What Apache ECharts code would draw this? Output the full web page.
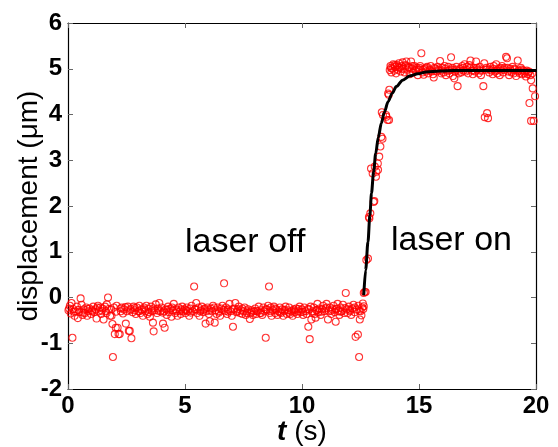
<!DOCTYPE html>
<html>
<head>
<meta charset="utf-8">
<script src="https://cdn.jsdelivr.net/npm/echarts@6/dist/echarts.min.js"></script>
<style>
  html, body { margin: 0; padding: 0; background: #fff; }
  #chart { width: 558px; height: 447px; }
</style>
</head>
<body>
<div id="chart"></div>
<script>
// measured displacement, laser off (t in s, displacement in um)
const laserOff = [
  [0.02,-0.28],[0.08,-0.18],[0.12,-0.35],[0.15,-0.12],[0.19,-0.88],[0.22,-0.25],[0.28,-0.40],[0.32,-0.30],[0.38,-0.20],[0.42,-0.45],
  [0.48,-0.32],[0.54,-0.02],[0.58,-0.16],[0.62,-0.38],[0.68,-0.26],[0.72,-0.34],[0.78,-0.22],[0.82,-0.40],[0.88,-0.30],[0.92,-0.24],[0.98,-0.36],
  [1.02,-0.28],[1.08,-0.20],[1.12,-0.32],[1.18,-0.26],[1.22,-0.46],[1.28,-0.18],[1.32,-0.30],[1.38,-0.22],[1.42,-0.36],[1.48,-0.24],
  [1.52,-0.48],[1.58,-0.20],[1.62,-0.30],[1.66,-0.15],[1.71,0.00],[1.75,-0.25],[1.80,-0.40],[1.86,-0.40],[1.90,-0.58],[1.92,-1.30],[1.96,-0.22],[2.00,-0.80],
  [2.04,-0.66],[2.08,-0.18],[2.12,-0.66],[2.16,-0.80],[2.21,-0.80],[2.26,-0.30],[2.30,-0.22],[2.35,-0.35],[2.40,-0.26],[2.47,-0.57],
  [2.52,-0.30],[2.56,-0.20],[2.60,-0.73],[2.64,-0.73],[2.68,-0.25],[2.71,-0.89],[2.76,-0.32],[2.80,-0.20],[2.85,-0.28],[2.90,-0.36],[2.95,-0.22],
  [3.00,-0.30],[3.05,-0.18],[3.10,-0.34],[3.15,-0.26],[3.20,-0.40],[3.25,-0.22],[3.30,-0.30],[3.35,-0.18],[3.40,-0.36],[3.45,-0.25],
  [3.50,-0.42],[3.55,-0.20],[3.60,-0.30],[3.63,-0.55],[3.66,-0.74],[3.70,-0.28],[3.75,-0.15],[3.80,-0.34],[3.85,-0.24],[3.90,-0.12],[3.95,-0.30],
  [4.00,-0.22],[4.06,-0.57],[4.10,-0.30],[4.13,-0.66],[4.18,-0.26],[4.22,-0.38],[4.28,-0.20],[4.32,-0.32],[4.38,-0.24],[4.42,-0.42],
  [4.48,-0.28],[4.52,-0.14],[4.58,-0.34],[4.62,-0.26],[4.68,-0.40],[4.72,-0.22],[4.78,-0.30],[4.82,-0.36],[4.88,-0.20],[4.92,-0.30],[4.98,-0.26],
  [5.02,-0.34],[5.08,-0.22],[5.12,-0.30],[5.18,-0.40],[5.22,-0.24],[5.28,-0.18],[5.32,-0.30],[5.39,0.24],[5.42,-0.26],[5.48,-0.12],
  [5.52,-0.34],[5.58,-0.22],[5.62,-0.40],[5.68,-0.28],[5.72,-0.20],[5.78,-0.32],[5.82,-0.26],[5.88,-0.57],[5.92,-0.30],[5.96,-0.22],
  [6.02,-0.36],[6.06,-0.52],[6.10,-0.24],[6.15,-0.30],[6.20,-0.18],[6.27,-0.55],[6.30,-0.28],[6.35,-0.36],[6.40,-0.22],[6.45,-0.30],
  [6.50,-0.40],[6.55,-0.24],[6.60,-0.18],[6.67,0.31],[6.70,-0.30],[6.75,-0.22],[6.80,-0.36],[6.85,-0.26],[6.90,-0.14],[6.95,-0.30],
  [7.00,-0.40],[7.05,-0.64],[7.10,-0.24],[7.15,-0.12],[7.20,-0.32],[7.25,-0.26],[7.30,-0.20],[7.35,-0.34],[7.40,-0.28],[7.45,-0.36],
  [7.50,-0.30],[7.55,-0.22],[7.60,-0.38],[7.65,-0.30],[7.70,-0.26],[7.77,-0.47],[7.80,-0.34],[7.85,-0.28],[7.90,-0.38],[7.95,-0.30],
  [8.00,-0.24],[8.05,-0.36],[8.10,-0.30],[8.15,-0.20],[8.20,-0.34],[8.25,-0.28],[8.30,-0.38],[8.35,-0.22],[8.40,-0.30],[8.45,-0.88],
  [8.50,-0.26],[8.55,-0.18],[8.59,0.24],[8.62,-0.34],[8.66,-0.22],[8.70,-0.40],[8.75,-0.28],[8.80,-0.20],[8.85,-0.34],[8.90,-0.26],[8.95,-0.38],
  [9.00,-0.30],[9.05,-0.22],[9.10,-0.34],[9.15,-0.26],[9.20,-0.40],[9.25,-0.30],[9.30,-0.20],[9.35,-0.36],[9.40,-0.28],[9.45,-0.22],
  [9.50,-0.36],[9.55,-0.30],[9.60,-0.40],[9.65,-0.26],[9.70,-0.32],[9.75,-0.24],[9.80,-0.36],[9.85,-0.30],[9.90,-0.20],[9.95,-0.32],
  [10.00,-0.26],[10.05,-0.38],[10.10,-0.22],[10.15,-0.30],[10.20,-0.36],[10.27,-0.64],[10.30,-0.26],[10.33,-0.91],[10.37,-0.20],[10.40,-0.48],
  [10.45,-0.30],[10.50,-0.22],[10.54,-0.36],[10.58,-0.44],[10.62,-0.28],[10.66,-0.14],[10.70,-0.32],[10.75,-0.24],[10.80,-0.38],[10.85,-0.26],[10.90,-0.18],[10.95,-0.30],
  [11.00,-0.24],[11.05,-0.14],[11.11,-0.48],[11.15,-0.30],[11.20,-0.22],[11.25,-0.36],[11.30,-0.26],[11.35,-0.18],[11.40,-0.32],[11.44,-0.53],
  [11.48,-0.24],[11.52,-0.14],[11.56,-0.30],[11.60,-0.38],[11.65,-0.22],[11.70,-0.30],[11.75,-0.16],[11.80,-0.34],[11.87,0.10],[11.90,-0.26],[11.95,-0.34],
  [12.00,-0.20],[12.05,-0.30],[12.10,-0.38],[12.15,-0.24],[12.20,-0.16],[12.25,-0.32],[12.29,-0.86],[12.33,-0.26],[12.39,-0.81],[12.41,-0.18],
  [12.44,-1.30],[12.47,-0.48],[12.50,-0.30],[12.54,-0.39],[12.57,-0.22],[12.60,-0.13],[12.64,-0.19]
];

// dense core of the laser-off band
const laserOffCore = [
  [0.05,-0.24],[0.25,-0.31],[0.45,-0.27],[0.65,-0.33],[0.85,-0.25],[1.05,-0.30],[1.25,-0.22],[1.45,-0.29],[1.65,-0.34],[1.85,-0.26],
  [2.05,-0.31],[2.25,-0.24],[2.45,-0.21],[2.65,-0.28],[2.85,-0.23],[3.05,-0.30],[3.25,-0.26],[3.45,-0.32],[3.65,-0.24],[3.85,-0.29],
  [4.05,-0.33],[4.25,-0.27],[4.45,-0.22],[4.65,-0.30],[4.85,-0.26],[5.05,-0.28],[5.25,-0.33],[5.45,-0.25],[5.65,-0.30],[5.85,-0.24],
  [6.05,-0.28],[6.25,-0.22],[6.45,-0.33],[6.65,-0.27],[6.85,-0.31],[7.05,-0.25],[7.25,-0.30],[7.45,-0.24],[7.65,-0.34],[7.85,-0.31],
  [8.05,-0.29],[8.25,-0.34],[8.45,-0.26],[8.65,-0.30],[8.85,-0.24],[9.05,-0.32],[9.25,-0.27],[9.45,-0.33],[9.65,-0.29],[9.85,-0.25],
  [10.05,-0.31],[10.25,-0.25],[10.45,-0.34],[10.65,-0.27],[10.85,-0.31],[11.05,-0.22],[11.25,-0.29],[11.45,-0.25],[11.65,-0.31],[11.85,-0.23],
  [12.05,-0.27],[12.25,-0.22],[12.45,-0.29],[12.62,-0.25]
];

// measured displacement, laser switched on
const laserOn = [
  [12.64,0.10],[12.68,0.12],[12.72,0.12],[12.75,0.82],[12.82,0.85],[12.86,1.76],[12.88,1.73],[12.92,1.84],[12.95,2.82],[13.02,2.71],
  [13.06,2.09],[13.09,2.11],[13.11,2.86],[13.16,2.64],[13.18,2.75],[13.24,2.93],[13.25,2.79],[13.30,3.08],[13.35,3.30],[13.39,3.51],
  [13.44,3.47],[13.41,4.05],[13.46,3.99],[13.59,3.99],[13.61,3.95],[13.66,3.88],[13.72,3.88],[13.68,4.46],[13.71,4.43],[13.73,4.54],
  [13.75,4.97],[13.78,5.06],[13.82,4.92],[13.86,5.00],[13.90,5.10],[13.94,4.96],[13.98,5.04],[14.02,4.90],[14.06,5.08],[14.10,4.98],
  [14.14,5.12],[14.18,5.02],[14.22,4.94],[14.26,5.06],[14.30,5.14],[14.34,5.00],[14.38,4.92],[14.42,5.08],[14.46,5.16],[14.50,4.98],
  [14.55,5.04],[14.60,4.88],[14.66,5.16],[14.70,5.00],[14.75,4.92],[14.80,5.06],[14.85,4.96],[14.90,5.02],[14.95,4.86],
  [15.00,4.98],[15.05,5.06],[15.10,5.34],[15.15,4.92],[15.20,4.87],[15.25,5.00],[15.30,4.94],[15.35,5.04],[15.40,4.90],[15.45,4.98],
  [15.50,5.06],[15.55,4.94],[15.60,4.88],[15.63,4.81],[15.70,5.00],[15.75,4.94],[15.80,5.04],[15.85,4.96],[15.90,5.17],[15.95,4.90],
  [16.00,5.02],[16.05,4.92],[16.10,5.06],[16.15,4.86],[16.20,4.96],[16.25,5.04],[16.30,4.90],[16.37,5.25],[16.40,4.98],[16.45,4.84],
  [16.51,4.79],[16.55,4.94],[16.60,5.04],[16.65,4.62],[16.70,4.90],[16.75,5.00],[16.80,4.92],[16.85,5.06],[16.90,4.96],[16.95,5.10],
  [17.00,4.94],[17.05,5.04],[17.10,4.90],[17.15,5.08],[17.20,5.18],[17.25,4.96],[17.30,4.88],[17.35,5.02],[17.40,4.94],[17.44,5.16],
  [17.50,4.98],[17.55,4.90],[17.60,5.04],[17.65,4.86],[17.70,4.96],[17.75,4.62],[17.79,5.12],[17.81,3.94],[17.85,4.98],[17.91,4.03],[17.95,3.92],
  [18.00,4.92],[18.05,5.04],[18.10,4.96],[18.15,4.88],[18.20,5.06],[18.25,4.94],[18.30,5.10],[18.35,4.90],[18.40,5.00],[18.45,4.86],
  [18.50,4.96],[18.55,5.06],[18.60,4.92],[18.65,5.02],[18.72,5.26],[18.76,5.23],[18.80,4.94],[18.85,4.86],[18.90,5.00],[18.95,4.92],
  [19.00,5.04],[19.05,4.90],[19.10,4.98],[19.15,4.84],[19.22,5.18],[19.25,4.96],[19.30,4.90],[19.35,5.02],[19.40,4.88],[19.45,4.96],
  [19.50,4.90],[19.57,4.83],[19.60,4.96],[19.65,4.88],[19.70,4.94],[19.72,4.25],[19.76,4.86],[19.79,4.75],[19.79,3.86],[19.86,4.57],
  [19.90,3.86],[19.96,4.40]
];

// dense core of the laser-on plateau
const laserOnCore = [
  [13.80,5.02],[13.96,5.08],[14.12,5.04],[14.28,5.00],[14.44,5.06],[14.58,5.02],[14.72,5.06],[14.88,4.98],[15.02,5.02],[15.18,4.98],
  [15.32,5.02],[15.48,4.96],[15.66,5.02],[15.82,4.98],[15.98,4.96],[16.12,5.00],[16.28,4.96],[16.42,5.02],[16.58,4.98],[16.72,4.96],
  [16.88,5.02],[17.02,4.98],[17.18,5.02],[17.32,4.96],[17.48,5.02],[17.62,4.96],[17.88,5.02],[18.02,4.98],[18.18,5.00],[18.32,4.96],
  [18.48,5.02],[18.62,4.98],[18.78,5.02],[18.92,4.96],[19.08,5.00],[19.24,4.94],[19.38,4.98],[19.52,4.94],[19.68,4.92],[19.84,4.90]
];

// fitted response curve
const fitCurve = [
  [12.64,0.05],[12.72,0.60],[12.82,1.22],[12.90,1.80],[12.97,2.28],[13.06,2.75],[13.15,3.15],[13.26,3.50],
  [13.39,3.81],[13.52,4.05],[13.68,4.28],[13.85,4.46],[14.03,4.61],[14.3,4.75],[14.6,4.84],[14.95,4.89],
  [15.3,4.93],[15.9,4.95],[16.5,4.96],[18,4.96],[20,4.96]
];

const fontFamily = '"Liberation Sans", Arial, sans-serif';

const chart = echarts.init(document.getElementById("chart"), null, { renderer: "canvas" });

const tickStyle = { show: true, inside: true, length: 5, lineStyle: { color: "#666", width: 1 } };
const lineStyle = { show: true, onZero: false, lineStyle: { color: "#000", width: 1.2 } };
const dotStyle = { color: "rgba(0,0,0,0)", borderColor: "#ff0000", borderWidth: 1.1 };

const option = {
  backgroundColor: "#fff",
  animation: false,
  grid: { left: 68, right: 22, top: 23, bottom: 58, containLabel: false, outerBoundsMode: "none" },
  xAxis: [
    {
      type: "value",
      min: 0,
      max: 20,
      interval: 5,
      name: "{it|t} (s)",
      nameLocation: "middle",
      nameGap: 29,
      nameMoveOverlap: false,
      nameTextStyle: {
        color: "#000",
        fontFamily: fontFamily,
        fontSize: 28,
        rich: {
          it: { fontFamily: fontFamily, fontSize: 28, fontStyle: "italic", fontWeight: "bold", color: "#000" },
        },
      },
      axisLine: lineStyle,
      axisTick: tickStyle,
      axisLabel: { color: "#000", fontFamily: fontFamily, fontSize: 24, fontWeight: "bold", margin: 5 },
      splitLine: { show: false },
    },
    {
      type: "value",
      position: "top",
      min: 0,
      max: 20,
      interval: 5,
      axisLine: lineStyle,
      axisTick: tickStyle,
      axisLabel: { show: false },
      splitLine: { show: false },
    },
  ],
  yAxis: [
    {
      type: "value",
      min: -2,
      max: 6,
      interval: 1,
      name: "displacement (μm)",
      nameLocation: "middle",
      nameRotate: 90,
      nameGap: 25,
      nameMoveOverlap: false,
      nameTextStyle: { color: "#000", fontFamily: fontFamily, fontSize: 28 },
      axisLine: lineStyle,
      axisTick: tickStyle,
      axisLabel: { color: "#000", fontFamily: fontFamily, fontSize: 24, fontWeight: "bold", margin: 6 },
      splitLine: { show: false },
    },
    {
      type: "value",
      position: "right",
      min: -2,
      max: 6,
      interval: 1,
      axisLine: lineStyle,
      axisTick: tickStyle,
      axisLabel: { show: false },
      splitLine: { show: false },
    },
  ],
  graphic: [
    {
      type: "text",
      left: 185,
      top: 226,
      style: { text: "laser off", fill: "#000", font: "34px " + fontFamily },
    },
    {
      type: "text",
      left: 391,
      top: 224,
      style: { text: "laser on", fill: "#000", font: "34px " + fontFamily },
    },
  ],
  series: [
    { name: "laser off", type: "scatter", data: laserOff, symbol: "circle", symbolSize: 7, itemStyle: dotStyle },
    { name: "laser off core", type: "scatter", data: laserOffCore, symbol: "circle", symbolSize: 7, itemStyle: dotStyle },
    { name: "laser on", type: "scatter", data: laserOn, symbol: "circle", symbolSize: 7, itemStyle: dotStyle },
    { name: "laser on core", type: "scatter", data: laserOnCore, symbol: "circle", symbolSize: 7, itemStyle: dotStyle },
    {
      name: "fit",
      type: "line",
      data: fitCurve,
      smooth: 0.3,
      smoothMonotone: "x",
      showSymbol: false,
      z: 5,
      lineStyle: { color: "#000", width: 3 },
    },
  ],
};

chart.setOption(option);
</script>
</body>
</html>
